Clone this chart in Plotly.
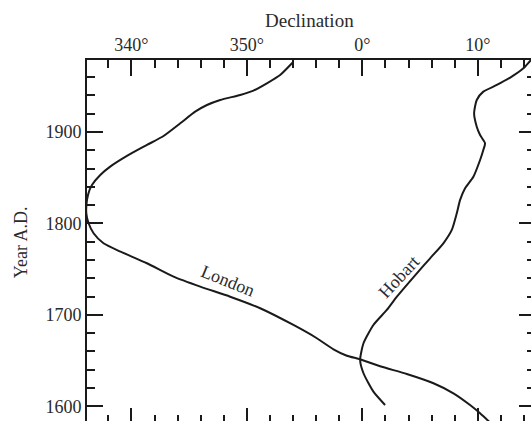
import plotly.graph_objects as go

# ---- data (declination in degrees east of north, negative = west; year A.D.) ----
london_decl = [-5.99, -7.12, -8.27, -9.43, -10.58, -12.31, -13.46, -14.48, -15.77, -17.22,
               -18.66, -20.39, -21.84, -22.70, -23.42, -23.63, -23.85, -23.91, -23.71, -23.28,
               -22.42, -20.94, -18.66, -16.35, -14.04, -11.45, -8.85, -5.97, -3.94, -2.50,
               -1.34, -0.19, 1.54, 3.85, 6.16, 7.89, 9.33, 10.20, 10.92, 11.5]
london_year = [1976.5, 1962.3, 1953.2, 1945.2, 1940.5, 1935.0, 1929.5, 1922.2, 1909.5, 1895.6,
               1885.8, 1873.8, 1862.1, 1853.0, 1842.1, 1836.6, 1825.7, 1811.1, 1800.2, 1789.3,
               1778.3, 1769.1, 1756.5, 1741.8, 1730.9, 1719.9, 1707.3, 1689.0, 1674.5, 1662.4,
               1655.4, 1651.5, 1643.8, 1635.4, 1625.3, 1614.3, 1601.5, 1592.5, 1584.0, 1577.5]

hobart_decl = [1.97, 0.96, 0.10, -0.19, 0.10, 0.96, 2.12, 2.99, 4.72, 5.87,
               7.02, 7.75, 8.18, 8.47, 8.90, 9.62, 10.20, 10.48, 10.63, 10.20,
               9.91, 9.68, 9.91, 10.48, 11.65, 12.94, 13.95, 14.61, 15.3]
hobart_year = [1601.5, 1616.1, 1636.2, 1650.7, 1669.0, 1689.0, 1705.4, 1719.9, 1745.5, 1761.9,
               1778.3, 1792.9, 1811.1, 1825.7, 1838.5, 1851.1, 1869.4, 1880.3, 1887.6, 1896.7,
               1905.8, 1920.4, 1935.0, 1944.1, 1951.4, 1960.5, 1969.6, 1978.7, 1986.0]

x_tickvals = [-20, -10, 0, 10]
x_ticktext = ["340°", "350°", "0°", "10°"]
x_minorvals = [v for v in range(-22, 16, 2)]
y_tickvals = [1600, 1700, 1800, 1900]
y_ticktext = ["1600", "1700", "1800", "1900"]
y_minorvals = [v for v in range(1580, 2000, 20)]

x_range = [-23.85, 14.61]
y_range = [1584.0, 1978.7]

FONT = "Liberation Serif"
TXT = "#2a2a2a"
LINE = "#1a1a1a"

fig = go.Figure()
fig.add_trace(go.Scatter(x=london_decl, y=london_year, mode="lines",
                         line=dict(color=LINE, width=2, shape="spline", smoothing=0.6),
                         showlegend=False, hoverinfo="skip", cliponaxis=True))
fig.add_trace(go.Scatter(x=hobart_decl, y=hobart_year, mode="lines",
                         line=dict(color=LINE, width=2, shape="spline", smoothing=0.6),
                         showlegend=False, hoverinfo="skip", cliponaxis=True))
# empty trace on the mirrored axes so they are drawn
fig.add_trace(go.Scatter(x=[], y=[], xaxis="x2", yaxis="y2", showlegend=False))

common_tick = dict(tickcolor=LINE, tickwidth=2, ticks="inside", showgrid=False, zeroline=False,
                   automargin=False)

fig.update_layout(
    width=531, height=421,
    margin=dict(l=87, r=0, t=60, b=0, autoexpand=False),
    paper_bgcolor="white", plot_bgcolor="white",
    font=dict(family=FONT, size=18, color=TXT),
    xaxis=dict(range=x_range, side="top", tickmode="array", tickvals=x_tickvals, ticktext=x_ticktext,
               ticklen=16, showline=True, linecolor=LINE, linewidth=2,
               minor=dict(tickmode="array", tickvals=x_minorvals, ticklen=8, tickwidth=2,
                          tickcolor=LINE, ticks="inside"),
               tickfont=dict(family=FONT, size=18, color=TXT), **common_tick),
    yaxis=dict(range=y_range, tickmode="array", tickvals=y_tickvals, ticktext=y_ticktext,
               ticklen=16, showline=True, linecolor=LINE, linewidth=2,
               minor=dict(tickmode="array", tickvals=y_minorvals, ticklen=8, tickwidth=2,
                          tickcolor=LINE, ticks="inside"),
               tickfont=dict(family=FONT, size=18, color=TXT), **common_tick),
    xaxis2=dict(range=x_range, overlaying="x", side="bottom", anchor="y", tickmode="array",
                tickvals=x_tickvals, ticklen=13, showticklabels=False, showline=False,
                minor=dict(tickmode="array", tickvals=x_minorvals, ticklen=6, tickwidth=2,
                           tickcolor=LINE, ticks="inside"), **common_tick),
    yaxis2=dict(range=y_range, overlaying="y", side="right", anchor="x", tickmode="array",
                tickvals=y_tickvals, ticklen=12, showticklabels=False, showline=False,
                minor=dict(tickmode="array", tickvals=y_minorvals, ticklen=4, tickwidth=2,
                           tickcolor=LINE, ticks="inside"), **common_tick),
    annotations=[
        dict(text="Declination", xref="paper", yref="paper", x=0.502, y=1.109,
             showarrow=False, font=dict(family=FONT, size=19, color=TXT),
             xanchor="center", yanchor="middle"),
        dict(text="Year A.D.", xref="paper", yref="paper", x=-0.148, y=0.496,
             showarrow=False, textangle=-90, font=dict(family=FONT, size=18, color=TXT),
             xanchor="center", yanchor="middle"),
        dict(text="London", x=-11.62, y=1737.5, showarrow=False, textangle=22,
             font=dict(family=FONT, size=18, color=TXT), xanchor="center", yanchor="middle"),
        dict(text="Hobart", x=3.16, y=1741.5, showarrow=False, textangle=-47,
             font=dict(family=FONT, size=18, color=TXT), xanchor="center", yanchor="middle"),
    ],
)

fig.write_html("out.html", config={"displayModeBar": False},
               post_script="document.body.style.margin='0';document.body.style.overflow='hidden';")
